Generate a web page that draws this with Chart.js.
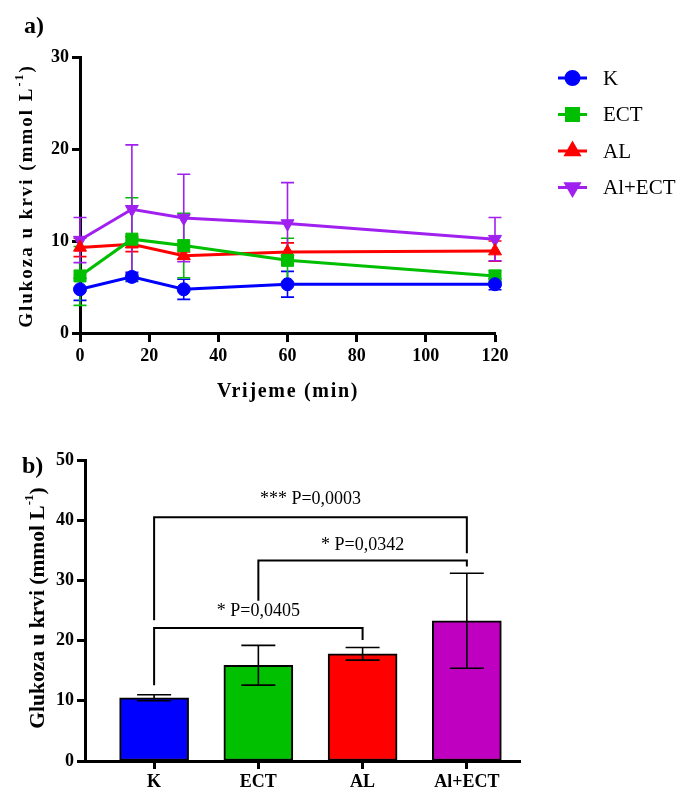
<!DOCTYPE html>
<html>
<head>
<meta charset="utf-8">
<script src="https://cdn.jsdelivr.net/npm/chart.js@4.4.1/dist/chart.umd.min.js"></script>
<style>
html,body{margin:0;padding:0;background:#fff;}
#wrap{position:relative;width:683px;height:789px;overflow:hidden;}
canvas{position:absolute;left:0;}
</style>
</head>
<body>
<div id="wrap">
<canvas id="c1" width="683" height="420" style="top:0"></canvas>
<canvas id="c2" width="683" height="369" style="top:420px"></canvas>
</div>
<script>
// ---------- DATA ----------
const times = [0, 15, 30, 60, 120];
const seriesNames = ['K', 'ECT', 'AL', 'Al+ECT'];
const kMean = [4.75, 6.1, 4.75, 5.3, 5.3];
const kErr = [1.2, 0.5, 1.1, 1.4, 0.6];
const ectMean = [6.2, 10.2, 9.5, 7.9, 6.2];
const ectErr = [3.2, 4.5, 3.5, 2.4, 0.6];
const alMean = [9.3, 9.65, 8.4, 8.8, 8.9];
const alErr = [1.0, 0.8, 0.4, 1.0, 1.1];
const alEctMean = [10.1, 13.45, 12.5, 11.9, 10.2];
const alEctErr = [2.45, 7.0, 4.75, 4.45, 2.35];
const yTicksA = [0, 10, 20, 30];
const xTicksA = [0, 20, 40, 60, 80, 100, 120];

const groups = ['K', 'ECT', 'AL', 'Al+ECT'];
const barMeans = [10.5, 15.9, 17.8, 23.3];
const barErr = [0.5, 3.3, 1.05, 7.9];
const yTicksB = [0, 10, 20, 30, 40, 50];

const compFrom = [0, 1, 0];
const compTo = [2, 3, 3];
const compTop = [22.1, 33.3, 40.5];
const compLegFrom = [12.6, 26.6, 23.4];
const compLegTo = [20.1, 32.3, 34.5];
const compLabel = ['* P=0,0405', '* P=0,0342', '*** P=0,0003'];
const compLabelY = [24.8, 35.9, 43.4];

// ---------- STYLES ----------
const SERIF = '"Liberation Serif", "Times New Roman", serif';
const lineColors = ['#0000ff', '#00bf00', '#ff0000', '#a020f0'];
const pointStyles = ['circle', 'rect', 'triangle', 'triangle'];
const pointRot = [0, 0, 0, 180];
const pointRad = [6.5, 8.5, 7.5, 7.5];
const barColors = ['#0000ff', '#00c000', '#ff0000', '#c000c0'];
const means = [kMean, ectMean, alMean, alEctMean];
const errs = [kErr, ectErr, alErr, alEctErr];

function drawYTitle(ctx, cx, cy, size, spacing, parts) {
  ctx.save();
  ctx.translate(cx, cy);
  ctx.rotate(-Math.PI / 2);
  ctx.fillStyle = '#000';
  ctx.textBaseline = 'middle';
  if ('letterSpacing' in ctx) ctx.letterSpacing = spacing + 'px';
  const main = 'bold ' + size + 'px ' + SERIF;
  const sup = 'bold ' + Math.round(size * 0.62) + 'px ' + SERIF;
  ctx.font = main; const w1 = ctx.measureText(parts[0]).width; const w3 = ctx.measureText(parts[2]).width;
  ctx.font = sup; const w2 = ctx.measureText(parts[1]).width;
  let x = -(w1 + w2 + w3) / 2;
  ctx.textAlign = 'left';
  ctx.font = main; ctx.fillText(parts[0], x, 0); x += w1;
  ctx.font = sup; ctx.fillText(parts[1], x, -size * 0.38); x += w2;
  ctx.font = main; ctx.fillText(parts[2], x, 0);
  ctx.restore();
}

// error bar plugin for line chart
const errPluginA = {
  id: 'errA',
  beforeDatasetsDraw(chart) {
    const ctx = chart.ctx, xs = chart.scales.x, ys = chart.scales.y;
    chart.data.datasets.forEach((ds, i) => {
      ctx.save();
      ctx.strokeStyle = ds.borderColor;
      ctx.lineWidth = 1.6;
      ds.errors.forEach((e, j) => {
        const x = xs.getPixelForValue(ds.data[j].x);
        const yt = ys.getPixelForValue(ds.data[j].y + e);
        const yb = ys.getPixelForValue(ds.data[j].y - e);
        ctx.beginPath();
        ctx.moveTo(x, yt); ctx.lineTo(x, yb);
        ctx.moveTo(x - 6.5, yt); ctx.lineTo(x + 6.5, yt);
        ctx.moveTo(x - 6.5, yb); ctx.lineTo(x + 6.5, yb);
        ctx.stroke();
      });
      ctx.restore();
    });
  },
  afterDraw(chart) {
    const ctx = chart.ctx, ca = chart.chartArea;
    // legend
    chart.data.datasets.forEach((ds, i) => {
      const y = 78 + i * 36.5;
      ctx.save();
      ctx.strokeStyle = ds.borderColor; ctx.lineWidth = 3;
      ctx.beginPath(); ctx.moveTo(558, y); ctx.lineTo(587, y); ctx.stroke();
      ctx.fillStyle = ds.borderColor; ctx.strokeStyle = ds.borderColor;
      Chart.helpers.drawPoint(ctx, {pointStyle: ds.pointStyle, rotation: ds.pointRotation, radius: ds.pointRadius, borderWidth: 1}, 572.5, y);
      ctx.fillStyle = '#000';
      ctx.font = '21px ' + SERIF; ctx.textAlign = 'left'; ctx.textBaseline = 'middle';
      ctx.fillText(ds.label, 603, y + 1);
      ctx.restore();
    });
    // titles
    drawYTitle(ctx, 27, 196, 19, 2, ['Glukoza u krvi (mmol L', '-1', ')']);
    ctx.save();
    ctx.fillStyle = '#000'; ctx.textAlign = 'center'; ctx.textBaseline = 'middle';
    ctx.font = 'bold 20px ' + SERIF;
    if ('letterSpacing' in ctx) ctx.letterSpacing = '1.7px';
    ctx.fillText('Vrijeme (min)', 288, 392);
    if ('letterSpacing' in ctx) ctx.letterSpacing = '0px';
    ctx.font = 'bold 24px ' + SERIF; ctx.textAlign = 'left';
    ctx.fillText('a)', 24, 27);
    ctx.restore();
  }
};

const tickFont = {family: SERIF, size: 18, weight: 'bold'};

new Chart(document.getElementById('c1'), {
  type: 'line',
  data: {
    datasets: seriesNames.map((n, i) => ({
      label: n,
      data: times.map((t, j) => ({x: t, y: means[i][j]})),
      errors: errs[i],
      borderColor: lineColors[i],
      backgroundColor: lineColors[i],
      pointBackgroundColor: lineColors[i],
      pointBorderColor: lineColors[i],
      pointStyle: pointStyles[i],
      pointRotation: pointRot[i],
      pointRadius: pointRad[i],
      pointBorderWidth: 1,
      borderWidth: 3,
      tension: 0,
      clip: false
    }))
  },
  options: {
    responsive: false, animation: false, devicePixelRatio: 1,
    layout: {padding: {top: 57, right: 188, left: 0, bottom: 0}},
    plugins: {legend: {display: false}, tooltip: {enabled: false}},
    scales: {
      x: {
        type: 'linear', min: 0, max: 120,
        afterBuildTicks: s => { s.ticks = xTicksA.map(v => ({value: v})); },
        afterFit: s => { s.height = 87; },
        grid: {drawOnChartArea: false, drawTicks: true, tickLength: 9, tickWidth: 3, tickColor: '#000'},
        border: {display: true, width: 3, color: '#000'},
        ticks: {color: '#000', font: tickFont, padding: 4, maxRotation: 0}
      },
      y: {
        type: 'linear', min: 0, max: 30,
        afterBuildTicks: s => { s.ticks = yTicksA.map(v => ({value: v})); },
        afterFit: s => { s.width = 80; },
        grid: {drawOnChartArea: false, drawTicks: true, tickLength: 8, tickWidth: 3, tickColor: '#000'},
        border: {display: true, width: 3, color: '#000'},
        ticks: {color: '#000', font: tickFont, padding: 3}
      }
    }
  },
  plugins: [errPluginA]
});

// ---------- BAR CHART ----------
const barPlugin = {
  id: 'barExtras',
  afterDatasetsDraw(chart) {
    const ctx = chart.ctx, xs = chart.scales.x, ys = chart.scales.y;
    ctx.save();
    ctx.strokeStyle = '#000'; ctx.lineWidth = 1.6;
    barMeans.forEach((m, i) => {
      const x = xs.getPixelForValue(i);
      const yt = ys.getPixelForValue(m + barErr[i]);
      const yb = ys.getPixelForValue(m - barErr[i]);
      ctx.beginPath();
      ctx.moveTo(x, yt); ctx.lineTo(x, yb);
      ctx.moveTo(x - 17, yt); ctx.lineTo(x + 17, yt);
      ctx.moveTo(x - 17, yb); ctx.lineTo(x + 17, yb);
      ctx.stroke();
    });
    ctx.lineWidth = 2;
    compFrom.forEach((a, k) => {
      const xa = xs.getPixelForValue(a), xb = xs.getPixelForValue(compTo[k]);
      const yt = ys.getPixelForValue(compTop[k]);
      ctx.beginPath();
      ctx.moveTo(xa, ys.getPixelForValue(compLegFrom[k]));
      ctx.lineTo(xa, yt); ctx.lineTo(xb, yt);
      ctx.lineTo(xb, ys.getPixelForValue(compLegTo[k]));
      ctx.stroke();
      ctx.fillStyle = '#000'; ctx.font = '18px ' + SERIF;
      ctx.textAlign = 'center'; ctx.textBaseline = 'middle';
      ctx.fillText(compLabel[k], (xa + xb) / 2, ys.getPixelForValue(compLabelY[k]));
    });
    ctx.restore();
  },
  afterDraw(chart) {
    const ctx = chart.ctx;
    drawYTitle(ctx, 38, 608 - 420, 21.5, 0, ['Glukoza u krvi (mmol L', '-1', ')']);
    ctx.save();
    ctx.fillStyle = '#000'; ctx.textBaseline = 'middle'; ctx.textAlign = 'left';
    ctx.font = 'bold 24px ' + SERIF;
    ctx.fillText('b)', 22, 47);
    ctx.restore();
  }
};

new Chart(document.getElementById('c2'), {
  type: 'bar',
  data: {
    datasets: [{
      label: 'Glukoza',
      data: groups.map((g, i) => ({x: i, y: barMeans[i]})),
      backgroundColor: barColors,
      borderColor: '#000',
      borderWidth: 2,
      barThickness: 69,
      borderSkipped: false
    }]
  },
  options: {
    responsive: false, animation: false, devicePixelRatio: 1,
    layout: {padding: {top: 40, right: 163, left: 0, bottom: 0}},
    plugins: {legend: {display: false}, tooltip: {enabled: false}},
    scales: {
      x: {
        type: 'linear', min: -0.663, max: 3.51, offset: false,
        afterBuildTicks: s => { s.ticks = groups.map((g, i) => ({value: i})); },
        afterFit: s => { s.height = 28; },
        grid: {drawOnChartArea: false, drawTicks: true, tickLength: 8, tickWidth: 3, tickColor: '#000', offset: false},
        border: {display: true, width: 3, color: '#000'},
        ticks: {color: '#000', font: tickFont, padding: 3, maxRotation: 0, autoSkip: false, callback: v => groups[v]}
      },
      y: {
        type: 'linear', min: 0, max: 50,
        afterBuildTicks: s => { s.ticks = yTicksB.map(v => ({value: v})); },
        afterFit: s => { s.width = 85; },
        grid: {drawOnChartArea: false, drawTicks: true, tickLength: 8, tickWidth: 3, tickColor: '#000'},
        border: {display: true, width: 3, color: '#000'},
        ticks: {color: '#000', font: tickFont, padding: 3}
      }
    }
  },
  plugins: [barPlugin]
});
</script>
</body>
</html>
